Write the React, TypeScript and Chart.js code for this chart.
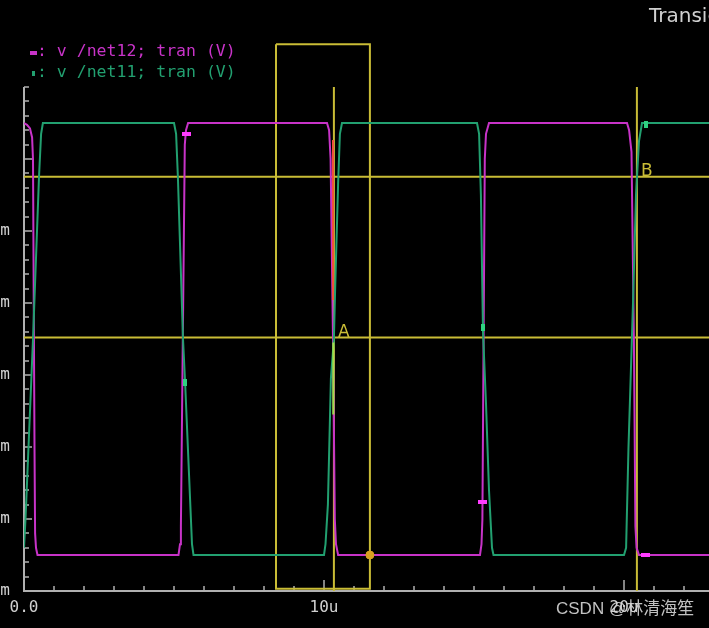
import { useEffect, useRef } from 'react';
import { Chart, registerables } from 'chart.js';

Chart.register(...registerables);

// ---------------- data (time in µs, voltage in V) ----------------
const net12Time = [0, 0.1, 0.2, 0.27, 0.3, 0.35, 0.37, 0.4, 0.45, 5.15, 5.2, 5.23, 5.36, 5.4, 5.47, 10.1, 10.17, 10.22, 10.3, 10.36, 10.4, 10.47, 15.2, 15.25, 15.28, 15.36, 15.4, 15.5, 20.1, 20.17, 20.25, 20.33, 20.38, 20.42, 20.5, 24];
const net12Volt = [1.2, 1.195, 1.185, 1.16, 1.1, 0.3, 0.06, 0.02, 0, 0, 0.03, 0.08, 1.14, 1.18, 1.2, 1.2, 1.18, 1.1, 0.6, 0.1, 0.03, 0, 0, 0.03, 0.1, 1.1, 1.17, 1.2, 1.2, 1.18, 1.12, 0.6, 0.08, 0.02, 0, 0];

const net11Time = [0, 0.05, 0.3, 0.5, 0.57, 0.63, 5.0, 5.07, 5.13, 5.3, 5.37, 5.6, 5.65, 10.0, 10.05, 10.13, 10.23, 10.33, 10.37, 10.47, 10.53, 10.6, 15.1, 15.17, 15.23, 15.3, 15.4, 15.5, 15.6, 15.65, 20.0, 20.07, 20.15, 20.3, 20.4, 20.5, 20.6, 24];
const net11Volt = [0.02, 0.1, 0.6, 1.05, 1.17, 1.2, 1.2, 1.17, 1.05, 0.6, 0.48, 0.03, 0, 0, 0.03, 0.14, 0.49, 0.6, 0.735, 1.03, 1.17, 1.2, 1.2, 1.17, 1.0, 0.62, 0.42, 0.18, 0.02, 0, 0, 0.02, 0.3, 0.7, 1.0, 1.15, 1.2, 1.2];

const net12MarkTime = [5.4, 15.29, 20.73];
const net12MarkVolt = [1.169, 0.147, 0.0];
const net11MarkTime = [5.37, 15.3, 20.73];
const net11MarkVolt = [0.478, 0.633, 1.197];

const cursorLevels = [1.051, 0.604];
const cursorTimes = [10.33, 20.43];
const cursorNames = ['A', 'B'];
const cursorNameLevels = [0.604, 1.051];

const zoomBoxTime = [8.4, 11.53];
const zoomBoxVolt = [-0.094, 1.419];
const dotTime = [11.53];
const dotVolt = [0.0];
const redTime = [10.3, 10.3];
const redVolt = [1.153, 0.708];
const limeTime = [10.31, 10.31];
const limeVolt = [0.59, 0.39];

const xTickValues = [0, 10, 20];
const xTickLabels = ['0.0', '10u', '20u'];
const yTickValues = [-0.1, 0.1, 0.3, 0.5, 0.7, 0.9, 1.1];
const yTickLabels = ['-100m', '100m', '300m', '500m', '700m', '900m', ''];
const seriesNames = ['v /net12; tran (V)', 'v /net11; tran (V)'];
const titleText = 'Transient Response';
const watermarkText = 'CSDN @林清海笙';

// ---------------- styling / layout ----------------
const X_MIN = 0, X_MAX = 24, X_MINOR = 1;
const Y_MIN = -0.1, Y_MAX = 1.3, Y_MINOR = 0.04;
const OFFL = 60;
const W = 709, H = 628;
const CANVAS_W = OFFL + 24 + 720 + 25;
const MAGENTA = '#c833c8';
const GREEN = '#22a070';
const YELLOW = '#c9bc36';
const AXIS = '#b0b0b0';
const TEXT = '#d0d0d0';
const MONO = '"DejaVu Sans Mono", monospace';

const pts = (t: number[], v: number[]) => t.map((x, i) => ({ x, y: v[i] }));

const decorPlugin = {
  id: 'decor',
  beforeDatasetsDraw(chart: any) {
    const { ctx, chartArea: a, scales } = chart;
    const xs = scales.x, ys = scales.y;
    ctx.save();
    ctx.strokeStyle = AXIS;
    ctx.lineWidth = 2;
    ctx.beginPath();
    ctx.moveTo(a.left, a.top);
    ctx.lineTo(a.left, a.bottom);
    ctx.lineTo(a.right + 40, a.bottom);
    ctx.stroke();
    ctx.lineWidth = 1.5;
    ctx.beginPath();
    for (let k = 0; ; k++) {
      const v = Y_MIN + k * Y_MINOR;
      if (v > Y_MAX + 1e-9) break;
      const py = Math.round(ys.getPixelForValue(v));
      const major = yTickValues.some((t) => Math.abs(t - v) < 1e-6);
      ctx.moveTo(a.left, py);
      ctx.lineTo(a.left + (major ? 8 : 5), py);
    }
    for (let k = 0; ; k++) {
      const t = X_MIN + k * X_MINOR;
      if (t > X_MAX + 1e-9) break;
      const px = Math.round(xs.getPixelForValue(t));
      const major = xTickValues.includes(t);
      ctx.moveTo(px, a.bottom);
      ctx.lineTo(px, a.bottom - (major ? 11 : 5));
    }
    ctx.stroke();
    ctx.restore();
  },
  afterDraw(chart: any) {
    const { ctx, scales } = chart;
    const xs = scales.x, ys = scales.y;
    ctx.save();
    // legend
    ctx.font = '16.5px ' + MONO;
    ctx.textBaseline = 'middle';
    ctx.textAlign = 'left';
    ctx.fillStyle = MAGENTA;
    ctx.fillRect(OFFL + 30, 51, 7, 4);
    ctx.fillText(': ' + seriesNames[0], OFFL + 37, 52);
    ctx.fillStyle = GREEN;
    ctx.fillRect(OFFL + 32, 71, 3, 5);
    ctx.fillText(': ' + seriesNames[1], OFFL + 37, 73);
    // cursor names
    ctx.font = '17px "DejaVu Sans"';
    ctx.fillStyle = YELLOW;
    ctx.textBaseline = 'alphabetic';
    cursorNames.forEach((n, i) => {
      const px = xs.getPixelForValue(cursorTimes[i]);
      const py = ys.getPixelForValue(cursorNameLevels[i]);
      ctx.fillText(n, px + 4, py - 1);
    });
    // title (cut off by the window)
    ctx.font = '20px "DejaVu Sans"';
    ctx.fillStyle = TEXT;
    ctx.textBaseline = 'middle';
    ctx.fillText(titleText, OFFL + 649, 17);
    // watermark
    ctx.font = '17px "Liberation Sans", "Noto Sans CJK SC"';
    ctx.fillStyle = 'rgba(215,215,215,0.9)';
    ctx.fillText(watermarkText, OFFL + 556, 609);
    ctx.restore();
  },
};

export default function App() {
  const ref = useRef<HTMLCanvasElement>(null);
  useEffect(() => {
    const canvas = ref.current!;
    const mkImg = (w: number, h: number, color: string) => {
      const c = document.createElement('canvas');
      c.width = w;
      c.height = h;
      const g = c.getContext('2d')!;
      g.fillStyle = color;
      g.fillRect(0, 0, w, h);
      return c;
    };
    const magentaMark = mkImg(9, 4, '#ff3cff');
    const greenMark = mkImg(4, 7, '#2fd080');

    const line = (data: any[], color: string, order: number, extra: any = {}) => ({
      data,
      borderColor: color,
      backgroundColor: color,
      borderWidth: 2,
      pointRadius: 0,
      tension: 0,
      fill: false,
      order,
      ...extra,
    });

    const datasets: any[] = [
      { data: pts(net12MarkTime, net12MarkVolt), showLine: false, pointStyle: magentaMark, pointRadius: 4, order: 0 },
      { data: pts(net11MarkTime, net11MarkVolt), showLine: false, pointStyle: greenMark, pointRadius: 4, order: 0 },
      { data: pts(dotTime, dotVolt), showLine: false, pointStyle: 'circle', pointRadius: 4, backgroundColor: '#d8a020', borderColor: '#d8a020', order: 0 },
      line(pts(redTime, redVolt), '#f0503c', 1),
      line(pts(limeTime, limeVolt), '#9ee04a', 1),
      line(pts(net12Time, net12Volt), MAGENTA, 3, { label: seriesNames[0] }),
      line(pts(net11Time, net11Volt), GREEN, 2, { label: seriesNames[1] }),
      ...cursorLevels.map((v) => line(pts([X_MIN, X_MAX], [v, v]), YELLOW, 5)),
      ...cursorTimes.map((t) => line(pts([t, t], [Y_MIN, Y_MAX]), YELLOW, 5)),
      line(
        pts(
          [zoomBoxTime[0], zoomBoxTime[1], zoomBoxTime[1], zoomBoxTime[0], zoomBoxTime[0]],
          [zoomBoxVolt[1], zoomBoxVolt[1], zoomBoxVolt[0], zoomBoxVolt[0], zoomBoxVolt[1]]
        ),
        YELLOW,
        5,
        { clip: false }
      ),
    ];

    const chart = new Chart(canvas, {
      type: 'line',
      data: { datasets },
      plugins: [decorPlugin],
      options: {
        animation: false,
        responsive: false,
        maintainAspectRatio: false,
        events: [],
        layout: { padding: { top: 87, right: 25, bottom: 0, left: 0 } },
        plugins: { legend: { display: false }, tooltip: { enabled: false }, title: { display: false } },
        scales: {
          x: {
            type: 'linear',
            min: X_MIN,
            max: X_MAX,
            grid: { display: false, drawTicks: false },
            border: { display: false },
            afterBuildTicks: (s: any) => {
              s.ticks = xTickValues.map((value) => ({ value }));
            },
            afterFit: (s: any) => {
              s.height = H - 591;
            },
            ticks: {
              autoSkip: false,
              maxRotation: 0,
              padding: 7,
              color: TEXT,
              font: { family: MONO, size: 16 },
              callback: (v: any) => {
                const i = xTickValues.findIndex((t) => Math.abs(t - v) < 1e-6);
                return i >= 0 ? xTickLabels[i] : '';
              },
            },
          },
          y: {
            type: 'linear',
            min: Y_MIN,
            max: Y_MAX,
            grid: { display: false, drawTicks: false },
            border: { display: false },
            afterBuildTicks: (s: any) => {
              s.ticks = yTickValues.map((value) => ({ value }));
            },
            afterFit: (s: any) => {
              s.width = OFFL + 24;
            },
            ticks: {
              autoSkip: false,
              padding: 14,
              color: TEXT,
              font: { family: MONO, size: 16 },
              callback: (v: any) => {
                const i = yTickValues.findIndex((t) => Math.abs(t - v) < 1e-6);
                return i >= 0 ? yTickLabels[i] : '';
              },
            },
          },
        },
      } as any,
    });
    return () => chart.destroy();
  }, []);

  return (
    <div style={{ position: 'fixed', left: 0, top: 0, width: W, height: H, overflow: 'hidden', background: '#000' }}>
      <canvas
        ref={ref}
        width={CANVAS_W}
        height={H}
        style={{ position: 'absolute', left: -OFFL, top: 0, width: CANVAS_W, height: H }}
      />
    </div>
  );
}
